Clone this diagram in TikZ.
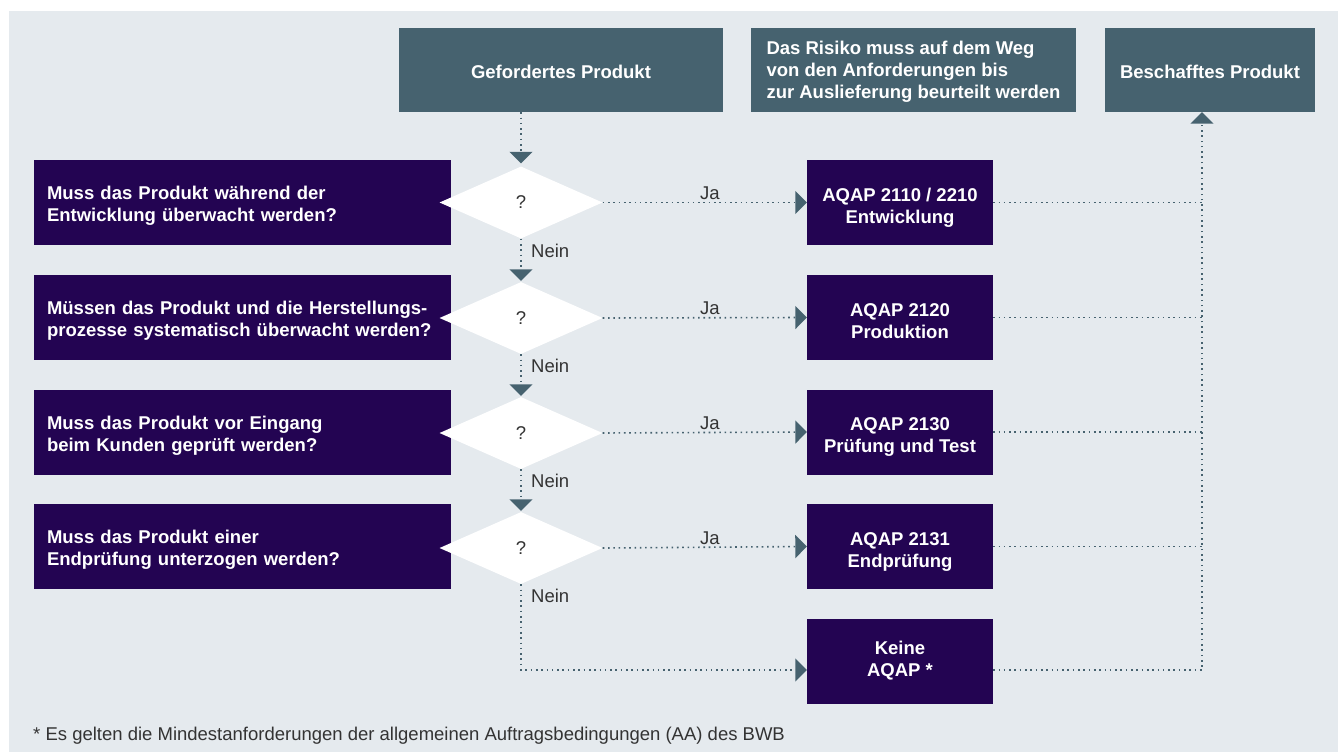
\documentclass[tikz,border=0pt]{standalone}
\usepackage{fontspec}
\setmainfont{Liberation Sans}
\usetikzlibrary{arrows.meta,shapes.geometric,calc}
\definecolor{bgc}{HTML}{E5EAEE}
\definecolor{slate}{HTML}{46626F}
\definecolor{purp}{HTML}{230452}
\definecolor{txt}{HTML}{333333}
\begin{document}
\begin{tikzpicture}[x=1pt,y=-1pt,
  base/.style={font=\fontsize{18.5}{22}\selectfont},
  bold/.style={font=\fontsize{18.5}{22}\selectfont\bfseries},
  topbox/.style={bold, fill=slate, text=white, minimum height=84pt, inner sep=0pt, align=center, text depth=0pt},
  qbox/.style={bold, fill=purp, text=white, minimum width=417pt, minimum height=85pt, text width=391pt, align=left, inner sep=0pt, text height=14pt, text depth=20pt},
  abox/.style={bold, fill=purp, text=white, minimum width=186pt, minimum height=85pt, align=center, inner sep=0pt, text height=41pt, text depth=0pt},
  dec/.style={base, diamond, aspect=2.26, fill=white, minimum width=163pt, minimum height=72pt, inner sep=0pt, text=txt},
  lbl/.style={base, text=txt, inner sep=0pt},
  dotl/.style={slate, line width=1.6pt, dash pattern=on 1.6pt off 3.7pt},
  flow/.style={dotl, -{Triangle[width=23pt,length=11.5pt]}},
]
\useasboundingbox (0,0) rectangle (1338,752);
\fill[bgc] (9,11) rectangle (1338,752);

% top boxes
\node[topbox, minimum width=324pt, text height=17pt] (g) at (561,70) {Gefordertes Produkt};
\node[topbox, minimum width=325pt, align=left, text height=58pt] (r) at (913.5,70) {Das Risiko muss auf dem Weg\\von den Anforderungen bis\\zur Auslieferung beurteilt werden};
\node[topbox, minimum width=210pt, text height=17pt] (b) at (1210,70) {Beschafftes Produkt};
\coordinate (barr) at ($(b.south)+(-8,0)$);

% question boxes
\node[qbox] (q1) at (242.5,202.5) {Muss das Produkt während der\\Entwicklung überwacht werden?};
\node[qbox] (q2) at (242.5,317.5) {Müssen das Produkt und die Herstellungs-\\prozesse systematisch überwacht werden?};
\node[qbox] (q3) at (242.5,432) {Muss das Produkt vor Eingang\\beim Kunden geprüft werden?};
\node[qbox] (q4) at (242.5,546.5) {Muss das Produkt einer\\Endprüfung unterzogen werden?};

% answer boxes
\node[abox] (a1) at (900,202.5) {AQAP 2110 / 2210\\Entwicklung};
\node[abox] (a2) at (900,317.5) {AQAP 2120\\Produktion};
\node[abox] (a3) at (900,432) {AQAP 2130\\Prüfung und Test};
\node[abox] (a4) at (900,546.5) {AQAP 2131\\Endprüfung};
\node[abox, text height=31pt] (k) at (900,661) {Keine\\AQAP *};

% decisions
\node[dec] (d1) at (521,202.5) {?};
\node[dec] (d2) at (521,318) {?};
\node[dec] (d3) at (521,433) {?};
\node[dec] (d4) at (521,548) {?};

% vertical flow
\draw[flow, shorten >=3pt] (d1.north |- g.south) -- (d1.north);
\draw[flow, shorten >=1pt] (d1.south) -- (d2.north);
\draw[flow, shorten >=1pt] (d2.south) -- (d3.north);
\draw[flow, shorten >=1pt] (d3.south) -- (d4.north);
\draw[flow] (d4.south) |- ($(k.west)+(0,9)$);

% yes branches
\draw[flow] (d1.east) -- (a1.west);
\draw[flow] (d2.east) -- (a2.west);
\draw[flow] (d3.east) -- (a3.west);
\draw[flow] (d4.east) -- (a4.west);

% to result
\draw[flow] ($(k.east)+(0,9)$) -| (barr);
\draw[dotl] (a1.east) -- (a1.east -| barr);
\draw[dotl] (a2.east) -- (a2.east -| barr);
\draw[dotl] (a3.east) -- (a3.east -| barr);
\draw[dotl] (a4.east) -- (a4.east -| barr);

% labels
\node[lbl, anchor=base] (ja1) at (710,199) {Ja};
\node[lbl, anchor=base] (ja2) at (710,314) {Ja};
\node[lbl, anchor=base] (ja3) at (710,429) {Ja};
\node[lbl, anchor=base] (ja4) at (710,544) {Ja};
\node[lbl, anchor=base west] (n1) at (531,257) {Nein};
\node[lbl, anchor=base west] (n2) at (531,372) {Nein};
\node[lbl, anchor=base west] (n3) at (531,487) {Nein};
\node[lbl, anchor=base west] (n4) at (531,602) {Nein};

\node[lbl, anchor=base west] (fn) at (33,740) {* Es gelten die Mindestanforderungen der allgemeinen Auftragsbedingungen (AA) des BWB};
\end{tikzpicture}
\end{document}
